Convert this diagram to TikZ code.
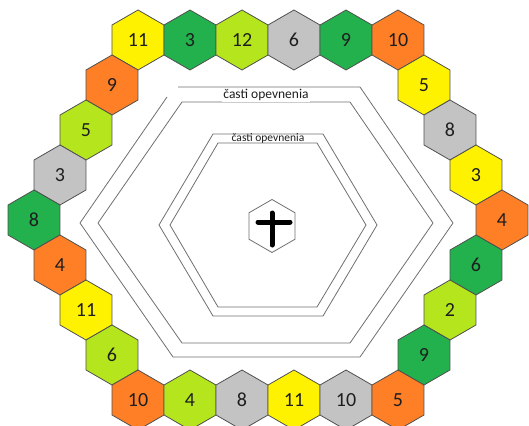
\documentclass[tikz,border=0pt]{standalone}
\usepackage{fontspec}
\setmainfont{Carlito}
\usepackage{tikz}
\usetikzlibrary{shapes.geometric}
\definecolor{Sun}{HTML}{FFF200}
\definecolor{Forest}{HTML}{22B14C}
\definecolor{Lime}{HTML}{B5E61D}
\definecolor{Ash}{HTML}{C3C3C3}
\definecolor{Tangerine}{HTML}{FF7F27}
\definecolor{Edge}{HTML}{505050}
\definecolor{Wall}{HTML}{707070}
\definecolor{Ink}{HTML}{1E1E1E}
\tikzset{
  hexbase/.style={regular polygon, regular polygon sides=6, shape border rotate=30, minimum size=60pt, inner sep=0pt, outer sep=0pt, draw=Edge, line width=0.8pt, text=Ink, font=\fontsize{20}{20}\selectfont},
  hexsun/.style={hexbase, fill=Sun},
  hexforest/.style={hexbase, fill=Forest},
  hexlime/.style={hexbase, fill=Lime},
  hexash/.style={hexbase, fill=Ash},
  hexorange/.style={hexbase, fill=Tangerine},
  wall/.style={draw=Wall, line width=0.8pt},
  walltag/.style={fill=white, inner sep=1pt, text=Ink}
}

\begin{document}
\begin{tikzpicture}[x=1pt, y=-1pt]
\useasboundingbox (0,0) rectangle (529,425);
\clip (0,0) rectangle (529,425);
\fill[white] (0,0) rectangle (529,425);
% top row
\node[hexsun]    (top1) at (138,40) {11};
\node[hexforest] (top2) at (190,40) {3};
\node[hexlime]   (top3) at (242,40) {12};
\node[hexash]    (top4) at (294,40) {6};
\node[hexforest] (top5) at (346,40) {9};
\node[hexorange] (top6) at (398,40) {10};
% left side
\node[hexorange] (left1) at (112,85) {9};
\node[hexlime]   (left2) at (86,130) {5};
\node[hexash]    (left3) at (60,175) {3};
\node[hexforest] (left4) at (34,220) {8};
\node[hexorange] (left5) at (60,265) {4};
\node[hexsun]    (left6) at (86,310) {11};
\node[hexlime]   (left7) at (112,355) {6};
% right side
\node[hexsun]    (right1) at (424,85) {5};
\node[hexash]    (right2) at (450,130) {8};
\node[hexsun]    (right3) at (476,175) {3};
\node[hexorange] (right4) at (502,220) {4};
\node[hexforest] (right5) at (476,265) {6};
\node[hexlime]   (right6) at (450,310) {2};
\node[hexforest] (right7) at (424,355) {9};
% bottom row
\node[hexorange] (bot1) at (138,400) {10};
\node[hexlime]   (bot2) at (190,400) {4};
\node[hexash]    (bot3) at (242,400) {8};
\node[hexsun]    (bot4) at (294,400) {11};
\node[hexash]    (bot5) at (346,400) {10};
\node[hexorange] (bot6) at (398,400) {5};
% outer walls
\draw[wall] (167,97) -- (80,223) -- (173,357) -- (360,357) -- (453,223) -- (360,87) -- (178,87);
\draw[wall] (182,102) -- (350,102) -- (433,223) -- (350,343) -- (182,343) -- (98,223) -- cycle;
\node[walltag, font=\fontsize{13.5}{13.5}\selectfont] (outertag) at (266,95) {časti opevnenia};
% inner walls
\draw[wall] (213,134) -- (323,134) -- (377,225) -- (323,316) -- (213,316) -- (159,225) -- cycle;
\draw[wall] (218,143) -- (317,143) -- (366,225) -- (317,307) -- (218,307) -- (170,225) -- cycle;
\node[font=\fontsize{11.5}{11.5}\selectfont, text=Ink, inner sep=0pt] (innertag) at (268,138.5) {časti opevnenia};
% keep
\node[regular polygon, regular polygon sides=6, shape border rotate=30, minimum size=53pt, inner sep=0pt, draw=Wall, line width=0.8pt] (keep) at (272,226) {};
\draw[line width=5pt, line cap=round] ([yshift=13pt]keep.center) -- ([yshift=-19pt]keep.center);
\draw[line width=5pt, line cap=round] ([xshift=-14pt, yshift=4pt]keep.center) -- ([xshift=18pt, yshift=4pt]keep.center);
\end{tikzpicture}
\end{document}
